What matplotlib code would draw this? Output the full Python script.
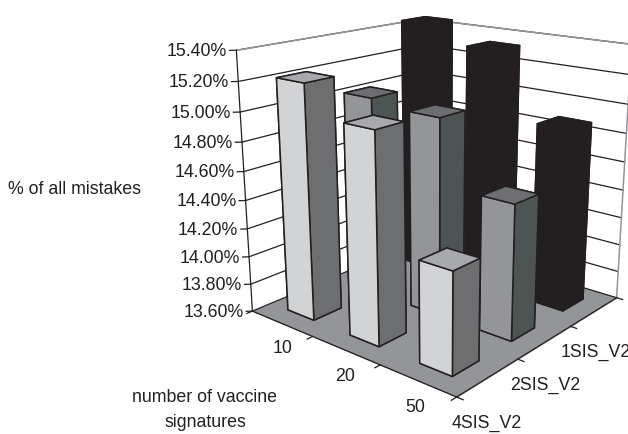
import matplotlib
matplotlib.use('Agg')
import matplotlib.pyplot as plt
from mpl_toolkits.mplot3d.art3d import Poly3DCollection

plt.rcParams['font.family'] = ['Liberation Sans', 'DejaVu Sans']

categories = ['10', '20', '50']
series = ['4SIS_V2', '2SIS_V2', '1SIS_V2']
vals_4sis = [15.22, 15.02, 14.28]
vals_2sis = [15.02, 14.98, 14.53]
vals_1sis = [15.45, 15.33, 14.88]
values = [vals_4sis, vals_2sis, vals_1sis]
zticks = [13.6, 13.8, 14.0, 14.2, 14.4, 14.6, 14.8, 15.0, 15.2, 15.4]

# top, front, side colours for each row
face_colors = [
    ('#a7a9ac', '#d1d3d4', '#6d6e70'),
    ('#6d6e71', '#939598', '#4d5554'),
    ('#231f20', '#231f20', '#231f20'),
]
ink = '#231f20'
wall = '#939598'
width = 0.43
fs = 12.8
zmin = zticks[0]
zmax = zticks[-1]

fig = plt.figure(figsize=(6.28, 4.35), dpi=100)
ax = fig.add_axes([0.187, 0.068, 1, 1], projection='3d')
ax.computed_zorder = False
ax.set_proj_type('persp', focal_length=0.42)
ax.view_init(elev=17.5, azim=-50)
ax.set_box_aspect((1, 1, 1.0), zoom=1.04)
ax.set_xlim(0, 3, view_margin=0)
ax.set_ylim(0, 3, view_margin=0)
ax.set_zlim(zmin, zmax, view_margin=0)
ax.set_axis_off()

floor = [[(0, 0, zmin), (3, 0, zmin), (3, 3, zmin), (0, 3, zmin)]]
ax.add_collection3d(Poly3DCollection(floor, facecolor=wall, edgecolor=wall, linewidth=0.5, zorder=1))

# wall grid lines
for z in zticks:
    ax.plot([0, 0, 3], [0, 3, 3], [z, z, z], color=ink, lw=0.9, zorder=2)
    ax.plot([0, -0.05], [0, -0.05], [z, z], color=ink, lw=0.9, zorder=2)
    ax.text(-0.07, -0.07, z, f'{z:.2f}%', ha='right', va='center', fontsize=fs, color=ink)
ax.plot([0, 0, 3, 3], [0, 3, 3, 3], [zmax, zmax, zmax, zmin], color=wall, lw=1.1, zorder=2)
ax.plot([0, 0], [3, 3], [zmin, zmax], color=wall, lw=1.1, zorder=2)
ax.plot([0, 0], [0, 0], [zmin, zmax], color=ink, lw=0.9, zorder=2)

# floor edges, ticks and labels
ax.plot([0, 3, 3], [0, 0, 3], [zmin, zmin, zmin], color=ink, lw=0.9, zorder=2)
for i in range(4):
    ax.plot([i, i], [0, -0.08], [zmin, zmin], color=ink, lw=0.9, zorder=2)
    ax.plot([3, 3.08], [i, i], [zmin, zmin], color=ink, lw=0.9, zorder=2)
for i, name in enumerate(categories):
    ax.text(0.93 * i + 0.95, -0.39, zmin, name, ha='center', va='center', fontsize=fs, color=ink)
for i, name in enumerate(series):
    ax.text(3.25, 0.9 * i - 0.38, zmin, name, ha='left', va='center', fontsize=fs, color=ink)

# bars, back to front
bars = []
for row, row_vals in enumerate(values):
    for col, val in enumerate(row_vals):
        bars.append((col - row, col, row, val))
bars.sort()
for order, (_, col, row, val) in enumerate(bars):
    top, front, side = face_colors[row]
    ax.bar3d(col + 0.5 - width / 2, row + 0.5 - width / 2, zmin, width, width, val - zmin,
             color=[top, top, front, front, side, side], shade=False,
             edgecolor=ink, linewidth=1.1, zorder=5 + order)

fig.text(75 / 628, 1 - 190 / 435, '% of all mistakes', ha='center', va='center', fontsize=fs, color=ink)
fig.text(205 / 628, 1 - 398 / 435, 'number of vaccine', ha='center', va='center', fontsize=fs, color=ink)
fig.text(205 / 628, 1 - 423 / 435, 'signatures', ha='center', va='center', fontsize=fs, color=ink)

fig.savefig('out.png', dpi=100)
